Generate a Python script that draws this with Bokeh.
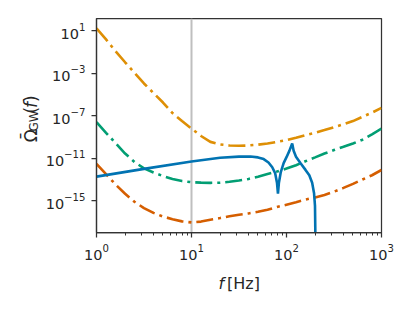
import math
from bokeh.plotting import figure
from bokeh.layouts import row, column
from bokeh.models import FixedTicker, Span, Range1d
from bokeh.core.properties import value
from bokeh.embed import file_html
from bokeh.resources import INLINE

# ---- data ----
f_grid = [1, 1.26, 1.58, 2.0, 2.51, 3.16, 3.98, 5.01, 6.31, 7.94,
          10, 12.6, 15.8, 20, 25.1, 31.6, 39.8, 50.1, 63.1, 79.4,
          100, 126, 158, 200, 251, 316, 398, 501, 631, 794, 1000]

omega_orange = [1.8e1, 1.6, 1.3e-1, 1.12e-2, 1.12e-3, 1.12e-4, 1.4e-5, 1.8e-6, 1.8e-7, 3.2e-8,
                6.3e-9, 1.26e-9, 3.5e-10, 2.0e-10, 1.6e-10, 1.5e-10, 1.6e-10, 1.9e-10, 2.5e-10, 3.5e-10,
                5.0e-10, 8.5e-10, 1.5e-9, 2.5e-9, 4.5e-9, 8.5e-9, 1.6e-8, 3.2e-8, 8.0e-8, 2.0e-7, 5.6e-7]

omega_green = [2.5e-8, 2.5e-9, 2.8e-10, 2.8e-11, 4.5e-12, 1.12e-12, 4.5e-13, 2.1e-13, 1.12e-13, 7.1e-14,
               5.5e-14, 5.0e-14, 4.8e-14, 5.0e-14, 6.0e-14, 7.9e-14, 1.12e-13, 1.8e-13, 3.2e-13, 5.6e-13,
               1.07e-12, 2.2e-12, 5.2e-12, 1.2e-11, 2.8e-11, 5.9e-11, 1.2e-10, 2.45e-10, 5.6e-10, 1.8e-9, 6.3e-9]

omega_red = [2.95e-12, 3.2e-13, 3.5e-14, 4.5e-15, 7.9e-16, 2.0e-16, 7.1e-17, 3.2e-17, 1.8e-17, 1.12e-17,
             8.9e-18, 1.07e-17, 1.6e-17, 2.3e-17, 3.4e-17, 4.8e-17, 6.3e-17, 8.9e-17, 1.4e-16, 2.5e-16,
             4.2e-16, 7.1e-16, 1.26e-15, 2.0e-15, 3.5e-15, 7.1e-15, 1.6e-14, 3.8e-14, 1.0e-13, 2.5e-13, 7.9e-13]

f_signal = [1, 3.16, 10, 20, 31.6, 41.7, 50.1, 57.5, 64.6, 70.8, 75.9, 79.4, 81.3, 83.2,
            87.1, 93.3, 100, 107.2, 114.8, 118.9, 125.9, 141.3, 158.5, 173.8, 186.2,
            195, 199.5, 201.8]
omega_signal = [1.86e-13, 1.0e-12, 5.0e-12, 1.12e-11, 1.41e-11, 1.45e-11, 1.2e-11, 8.3e-12, 4.0e-12,
                1.41e-12, 4.0e-13, 5.0e-14, 4.5e-15, 5.0e-14, 5.0e-13, 3.5e-12, 1.26e-11, 5.0e-11,
                2.5e-10, 5.0e-11, 1.41e-11, 3.2e-12, 8.0e-13, 2.5e-13, 5.0e-14, 5.0e-15, 3.2e-16, 1.0e-19]

f_marker = 10
x_major = [1, 10, 100, 1000]
x_minor = [2, 3, 4, 5, 6, 7, 8, 9, 20, 30, 40, 50, 60, 70, 80, 90,
           200, 300, 400, 500, 600, 700, 800, 900]
y_major = [1e1, 1e-3, 1e-7, 1e-11, 1e-15]

# ---- layout geometry (pixels) ----
W, H = 403, 300
YW = 42          # width of the strip holding the y label
MH = 270         # height of the main plot canvas
XH = H - MH      # height of the strip holding the x label
col = "#262626"
font = value("DejaVu Sans")

# ---- main figure ----
p = figure(width=W - YW, height=MH, x_axis_type="log", y_axis_type="log",
           x_range=Range1d(1, 1000), y_range=Range1d(1e-18, 1.5e2),
           output_backend="svg", toolbar_location=None,
           min_border_left=96 - YW, min_border_right=22, min_border_top=18,
           min_border_bottom=MH - 232)
p.background_fill_color = "white"
p.border_fill_color = "white"
p.xgrid.visible = False
p.ygrid.visible = False
p.outline_line_color = "#333333"
p.outline_line_width = 1.25
p.outline_line_alpha = 1.0

for ax in (p.xaxis[0], p.yaxis[0]):
    ax.axis_line_color = "#333333"
    ax.axis_line_width = 1.25
    ax.major_tick_line_color = "#333333"
    ax.minor_tick_line_color = "#333333"
    ax.major_tick_line_width = 1.25
    ax.minor_tick_line_width = 1.0
    ax.major_tick_in = 0
    ax.major_tick_out = 5
    ax.minor_tick_in = 0
    ax.minor_tick_out = 3
    ax.major_label_text_font = "DejaVu Sans"
    ax.major_label_text_font_size = "14.5px"
    ax.major_label_text_color = col
    ax.major_label_standoff = 6

p.xaxis.ticker = FixedTicker(ticks=x_major, minor_ticks=x_minor)
p.yaxis.ticker = FixedTicker(ticks=y_major, minor_ticks=[])

p.add_layout(Span(location=f_marker, dimension="height", line_color="#bfbfbf",
                  line_width=2, level="underlay"))

dash = "17 5 3 5"
p.line(f_grid, omega_orange, line_color="#de8f05", line_width=2.6, line_dash=dash)
p.line(f_grid, omega_green, line_color="#029e73", line_width=2.6, line_dash=dash)
p.line(f_grid, omega_red, line_color="#d55e00", line_width=2.6, line_dash=dash)
p.line(f_signal, omega_signal, line_color="#0173b2", line_width=2.6)


# ---- label strips (frame = whole canvas, 1 unit = 1 pixel) ----
def strip(w, h):
    s = figure(width=w, height=h, x_range=Range1d(0, w), y_range=Range1d(0, h),
               output_backend="svg", toolbar_location=None,
               x_axis_location=None, y_axis_location=None,
               min_border=0, min_border_left=0, min_border_right=0,
               min_border_top=0, min_border_bottom=0)
    s.xgrid.visible = False
    s.ygrid.visible = False
    s.outline_line_color = None
    s.background_fill_color = "white"
    s.border_fill_color = "white"
    return s


# y label strip: page coords -> strip coords (x same, y = MH - page_y)
ys = strip(YW, MH)
ybase = 30


def ypiece(text, px, py, size, style="normal"):
    ys.text(x=[px], y=[MH - py], text=[text], angle=math.pi / 2,
            text_align="left", text_baseline="alphabetic",
            text_font=font, text_font_size=value(size),
            text_font_style=value(style), text_color=col)


ypiece("\u03a9", ybase, 156, "17px")
ypiece("\u00af", ybase - 3.5, 153.5, "17px")
ypiece("GW", ybase + 3.5, 142.5, "12px")
ypiece("(", ybase, 120, "17px")
ypiece("f", ybase, 113, "17px", "italic")
ypiece(")", ybase, 105.5, "17px")

# x label strip: page coords -> strip coords (x same, y = H - page_y)
xs = strip(W, XH)
xs.text(x=[218], y=[H - 283], text=["f"], text_align="left", text_baseline="alphabetic",
        text_font=font, text_font_size=value("16px"), text_font_style=value("italic"),
        text_color=col)
xs.text(x=[226.5], y=[H - 283], text=["[Hz]"], text_align="left", text_baseline="alphabetic",
        text_font=font, text_font_size=value("16px"), text_color=col)

layout = column(row(ys, p, spacing=0), xs, spacing=0)

open("out.html", "w").write(file_html(layout, INLINE))
